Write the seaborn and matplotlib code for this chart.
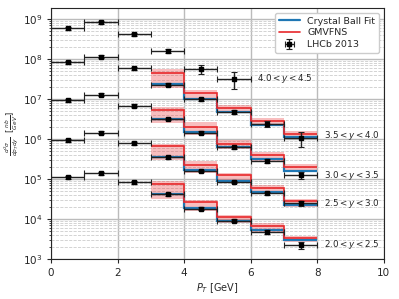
import numpy as np
import seaborn as sns
import matplotlib.pyplot as plt
from matplotlib.ticker import LogLocator, NullFormatter

sns.set_style("ticks")
plt.rcParams['font.family'] = ['DejaVu Sans']

# LHCb 2013 data points, bin centres and values per rapidity bin (scaled by powers of 10)
pt_centres = [0.5, 1.5, 2.5, 3.5, 4.5, 5.5, 6.5, 7.5]
rap_labels = ["$2.0 < y < 2.5$", "$2.5 < y < 3.0$", "$3.0 < y < 3.5$",
              "$3.5 < y < 4.0$", "$4.0 < y < 4.5$"]
lhcb_20_25 = [1.1e5, 1.4e5, 8.3e4, 4.1e4, 1.8e4, 9.1e3, 4.7e3, 2.2e3]
lhcb_25_30 = [9.3e5, 1.45e6, 7.8e5, 3.5e5, 1.6e5, 8.5e4, 4.4e4, 2.45e4]
lhcb_30_35 = [9.4e6, 1.3e7, 6.8e6, 3.2e6, 1.45e6, 6.3e5, 2.9e5, 1.26e5]
lhcb_35_40 = [8.3e7, 1.15e8, 5.9e7, 2.3e7, 1.0e7, 4.8e6, 2.4e6, 1.05e6]
lhcb_40_45 = [5.9e8, 8.3e8, 4.2e8, 1.6e8, 5.6e7, 3.2e7]
# relative errors
err_20_25 = [0.08, 0.08, 0.08, 0.08, 0.08, 0.08, 0.1, 0.2]
err_25_30 = [0.08, 0.08, 0.08, 0.08, 0.08, 0.08, 0.1, 0.15]
err_30_35 = [0.08, 0.08, 0.08, 0.08, 0.08, 0.08, 0.12, 0.2]
err_35_40 = [0.08, 0.08, 0.08, 0.08, 0.08, 0.1, 0.15, 0.4]
err_40_45 = [0.08, 0.08, 0.08, 0.1, 0.25, 0.45]

# theory curves, bins 3-8 GeV
th_edges = [3, 4, 5, 6, 7, 8]
gm_20_25 = [7.4e4, 2.6e4, 1.1e4, 6.7e3, 3.3e3]
gm_hi_20_25 = [8.9e4, 3.0e4, 1.26e4, 7.9e3, 3.8e3]
gm_lo_20_25 = [3.1e4, 1.6e4, 7.9e3, 4.8e3, 2.6e3]
cb_20_25 = [4.2e4, 1.86e4, 8.9e3, 5.2e3, 2.9e3]

gm_25_30 = [6.7e5, 2.3e5, 1.23e5, 6.0e4, 2.8e4]
gm_hi_25_30 = [7.4e5, 2.8e5, 1.4e5, 7.1e4, 3.2e4]
gm_lo_25_30 = [3.0e5, 1.45e5, 7.9e4, 4.3e4, 2.0e4]
cb_25_30 = [3.5e5, 1.7e5, 8.9e4, 4.7e4, 2.2e4]

gm_30_35 = [5.4e6, 2.0e6, 7.5e5, 4.0e5, 2.0e5]
gm_hi_30_35 = [6.3e6, 2.7e6, 9.4e5, 4.8e5, 2.4e5]
gm_lo_30_35 = [2.5e6, 1.26e6, 5.6e5, 2.8e5, 1.5e5]
cb_30_35 = [3.2e6, 1.5e6, 6.3e5, 3.1e5, 1.6e5]

gm_35_40 = [4.4e7, 1.45e7, 5.9e6, 2.8e6, 1.33e6]
gm_hi_35_40 = [5.6e7, 1.74e7, 7.1e6, 3.4e6, 1.6e6]
gm_lo_35_40 = [1.9e7, 9.3e6, 4.4e6, 2.1e6, 1.0e6]
cb_35_40 = [2.4e7, 1.02e7, 4.7e6, 2.24e6, 1.1e6]

label_pos = [(8.2, 2.3e3), (8.2, 2.4e4), (8.2, 1.2e5), (8.2, 1.2e6), (6.2, 3.2e7)]

fig = plt.figure(figsize=(3.99, 2.99), dpi=100)
ax = fig.add_axes([0.128, 0.134, 0.834, 0.839])

blue = '#1f77b4'
red = '#e8282b'

theory = [(gm_20_25, gm_hi_20_25, gm_lo_20_25, cb_20_25),
          (gm_25_30, gm_hi_25_30, gm_lo_25_30, cb_25_30),
          (gm_30_35, gm_hi_30_35, gm_lo_30_35, cb_30_35),
          (gm_35_40, gm_hi_35_40, gm_lo_35_40, cb_35_40)]
for i, (gm, hi, lo, cb) in enumerate(theory):
    ax.stairs(hi, th_edges, baseline=lo, fill=True, color=red, alpha=0.3, lw=0)
    ax.stairs(cb, th_edges, color=blue, lw=1.6, baseline=None,
              label="Crystal Ball Fit" if i == 0 else None)
    ax.stairs(gm, th_edges, color=red, lw=1.2, baseline=None,
              label="GMVFNS" if i == 0 else None)

data = [(lhcb_20_25, err_20_25), (lhcb_25_30, err_25_30), (lhcb_30_35, err_30_35),
        (lhcb_35_40, err_35_40), (lhcb_40_45, err_40_45)]
for i, (vals, rel) in enumerate(data):
    x = pt_centres[:len(vals)]
    v = np.array(vals)
    ax.errorbar(x, v, xerr=0.5, yerr=v * np.array(rel), fmt='s', color='black',
                ecolor='#222222', ms=3.5, elinewidth=1, capsize=2, capthick=0.8,
                label="LHCb 2013" if i == 0 else None, zorder=5)
    ax.text(label_pos[i][0], label_pos[i][1], rap_labels[i], fontsize=6.3,
            va='center', ha='left')

ax.set_yscale('log')
ax.set_xlim(0, 10)
ax.set_ylim(1e3, 1.9e9)
ax.set_xticks([0, 2, 4, 6, 8, 10])
ax.yaxis.set_minor_locator(LogLocator(base=10, subs=np.arange(2, 10), numticks=20))
ax.yaxis.set_minor_formatter(NullFormatter())
ax.grid(True, which='major', color='#bbbbbb', lw=1.0)
ax.grid(True, which='minor', axis='y', color='#cccccc', ls='--', lw=0.6)
ax.set_axisbelow(True)
ax.tick_params(labelsize=7.5, length=3)
ax.tick_params(which='minor', length=1.5)
ax.set_xlabel("$P_T$ [GeV]", fontsize=7, labelpad=2)
ax.set_ylabel(r"$\frac{d^2\sigma}{dp_T dy}$  [$\frac{nb}{GeV}$]", fontsize=6, labelpad=1)

ax.legend(loc='upper right', fontsize=6.8, framealpha=1, handlelength=2.2,
          borderpad=0.4, labelspacing=0.3)

fig.savefig("out.png", dpi=100)
